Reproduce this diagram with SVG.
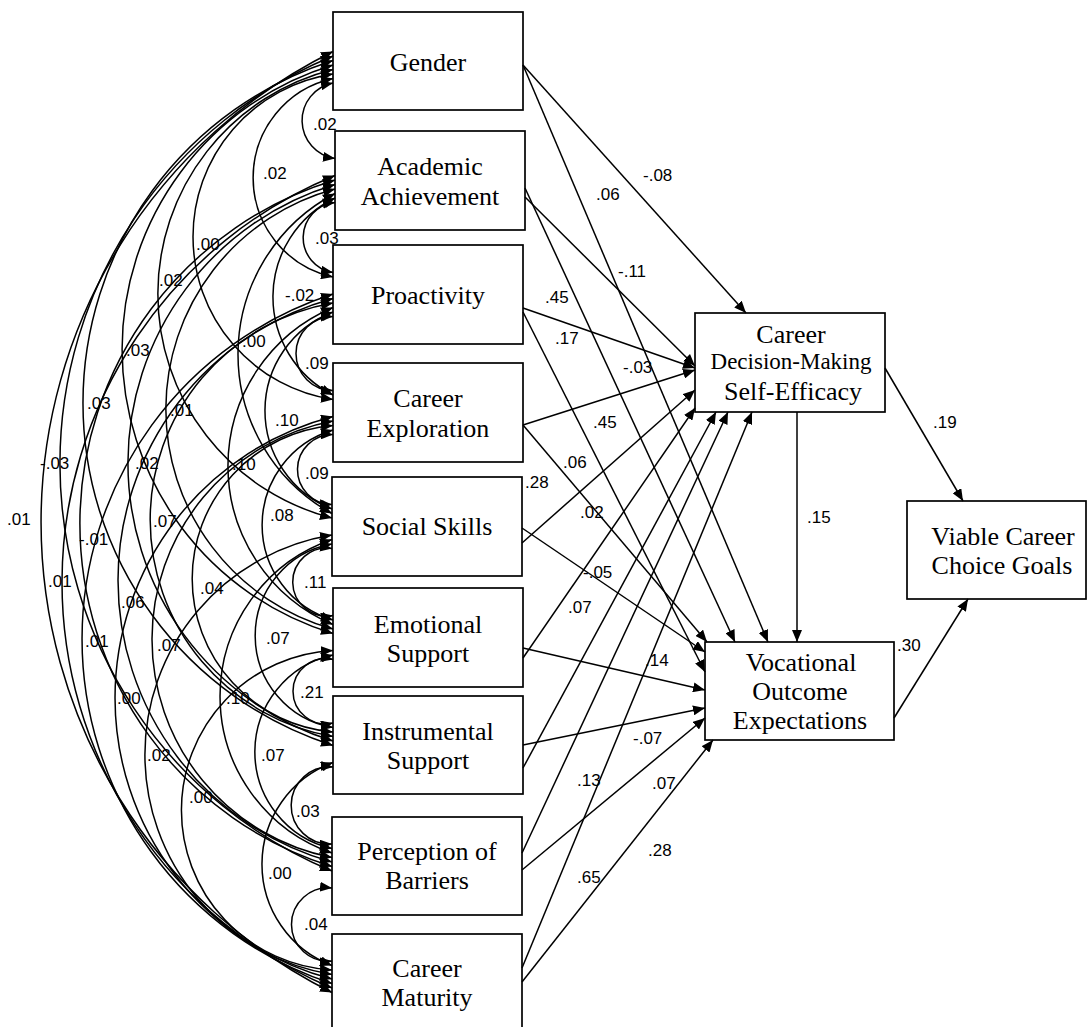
<svg xmlns="http://www.w3.org/2000/svg" width="1087" height="1027" viewBox="0 0 1087 1027">
<style>
.box{fill:#fff;stroke:#000;stroke-width:1.7}
.t{font-family:"Liberation Serif","Times New Roman",serif;font-size:26px;text-anchor:middle;fill:#000}
.ts{font-size:23px}
.lbl{font-family:"Liberation Sans",Arial,sans-serif;font-size:17px;fill:#000}
.c{fill:none;stroke:#000;stroke-width:1.5;marker-end:url(#ah)}
.cv{fill:none;stroke:#000;stroke-width:1.5;marker-start:url(#ah);marker-end:url(#ah)}
</style>
<defs>
<marker id="ah" viewBox="0 0 12 10" refX="12" refY="5" markerWidth="12" markerHeight="10" markerUnits="userSpaceOnUse" orient="auto-start-reverse">
<path d="M0,0 L12,5 L0,10 z" fill="#000"/>
</marker>
</defs>
<rect width="1087" height="1027" fill="#fff"/>

<g id="nodes">
<g id="gender"><rect class="box" x="333" y="12" width="190" height="98"/><text class="t" x="428" y="71">Gender</text></g>
<g id="academic"><rect class="box" x="335" y="131" width="190" height="99"/><text class="t" x="430" y="175">Academic</text><text class="t" x="430" y="205">Achievement</text></g>
<g id="proactivity"><rect class="box" x="333" y="245" width="190" height="99"/><text class="t" x="428" y="304">Proactivity</text></g>
<g id="exploration"><rect class="box" x="333" y="363" width="190" height="99"/><text class="t" x="428" y="407">Career</text><text class="t" x="428" y="437">Exploration</text></g>
<g id="social"><rect class="box" x="332" y="477" width="190" height="99"/><text class="t" x="427" y="535">Social Skills</text></g>
<g id="emotional"><rect class="box" x="333" y="588" width="190" height="99"/><text class="t" x="428" y="633">Emotional</text><text class="t" x="428" y="662">Support</text></g>
<g id="instrumental"><rect class="box" x="333" y="696" width="190" height="98"/><text class="t" x="428" y="740">Instrumental</text><text class="t" x="428" y="769">Support</text></g>
<g id="barriers"><rect class="box" x="332" y="817" width="190" height="98"/><text class="t" x="427" y="860">Perception of</text><text class="t" x="427" y="889">Barriers</text></g>
<g id="maturity"><rect class="box" x="332" y="934" width="190" height="100"/><text class="t" x="427" y="977">Career</text><text class="t" x="427" y="1006">Maturity</text></g>
<g id="cdmse"><rect class="box" x="695" y="313" width="190" height="99"/><text class="t" x="791" y="343">Career</text><text class="t ts" x="791" y="369">Decision-Making</text><text class="t" x="793" y="400">Self-Efficacy</text></g>
<g id="voe"><rect class="box" x="705" y="642" width="189" height="98"/><text class="t" x="801" y="671">Vocational</text><text class="t" x="800" y="700">Outcome</text><text class="t" x="800" y="729">Expectations</text></g>
<g id="viable"><rect class="box" x="907" y="501" width="179" height="98"/><text class="t" x="1003" y="545">Viable Career</text><text class="t" x="1002" y="574">Choice Goals</text></g>
</g>

<g id="connectors">
<!-- covariances -->
<path class="cv" d="M333 83 A38.3 38.3 0 0 0 335 158.5"/>
<path class="cv" d="M335 202.5 A35.3 35.3 0 0 0 333 272.5"/>
<path class="cv" d="M333 316.5 A37 37 0 1 0 333 390.5"/>
<path class="cv" d="M333 434.5 A35 35 0 1 0 332 504.5"/>
<path class="cv" d="M332 548.5 A34 34 0 1 0 333 615.5"/>
<path class="cv" d="M333 659.5 A32.6 32.6 0 1 0 333 723"/>
<path class="cv" d="M333 767 A38.6 38.6 0 1 0 332 844"/>
<path class="cv" d="M332 888 A36.7 36.7 0 1 0 332 961"/>
<path class="cv" d="M333 78.5 A101.6 101.6 0 0 0 333 277"/>
<path class="cv" d="M335 198 A110 110 0 0 0 333 395"/>
<path class="cv" d="M333 312 A105.6 105.6 0 0 0 332 509"/>
<path class="cv" d="M333 430 A99.1 99.1 0 0 0 333 620"/>
<path class="cv" d="M332 544 A93.1 93.1 0 0 0 333 727.5"/>
<path class="cv" d="M333 655 A99.1 99.1 0 0 0 332 848.5"/>
<path class="cv" d="M333 762.5 A108.3 108.3 0 0 0 332 965.5"/>
<path class="cv" d="M333 74 A164.6 164.6 0 0 0 333 399.5"/>
<path class="cv" d="M335 193.5 A181.8 181.8 0 0 0 332 513.5"/>
<path class="cv" d="M333 307.5 A172.1 172.1 0 0 0 333 624.5"/>
<path class="cv" d="M333 425.5 A153.8 153.8 0 0 0 333 732"/>
<path class="cv" d="M332 539.5 A165.7 165.7 0 0 0 332 853"/>
<path class="cv" d="M333 650.5 A160 160 0 0 0 332 970"/>
<path class="cv" d="M333 69.5 A231.3 231.3 0 0 0 332 518"/>
<path class="cv" d="M335 189 A228 228 0 0 0 333 629"/>
<path class="cv" d="M333 303 A219.9 219.9 0 0 0 333 736.5"/>
<path class="cv" d="M333 421 A222.2 222.2 0 0 0 332 857.5"/>
<path class="cv" d="M332 535 A222.6 222.6 0 0 0 332 974.5"/>
<path class="cv" d="M333 65 A297 297 0 0 0 333 633.5"/>
<path class="cv" d="M335 184.5 A290.9 290.9 0 0 0 333 741"/>
<path class="cv" d="M333 298.5 A292.3 292.3 0 0 0 332 862"/>
<path class="cv" d="M333 416.5 A290.6 290.6 0 0 0 332 979"/>
<path class="cv" d="M333 60.5 A359.6 359.6 0 0 0 333 745.5"/>
<path class="cv" d="M335 180 A359.1 359.1 0 0 0 332 866.5"/>
<path class="cv" d="M333 294 A362.5 362.5 0 0 0 332 983.5"/>
<path class="cv" d="M333 56 A440.9 440.9 0 0 0 332 871"/>
<path class="cv" d="M335 175.5 A439.7 439.7 0 0 0 332 988"/>
<path class="cv" d="M333 51.5 A525.5 525.5 0 0 0 332 992.5"/>
<!-- regression paths -->
<path class="c" d="M523 65 L746 313"/>
<path class="c" d="M523 65 L768 642"/>
<path class="c" d="M525 197 L695 366"/>
<path class="c" d="M525 188 L735 642"/>
<path class="c" d="M523 308 L695 368"/>
<path class="c" d="M523 312 L705 672"/>
<path class="c" d="M523 425 L695 370"/>
<path class="c" d="M523 425 L707 642"/>
<path class="c" d="M522 543 L695 390"/>
<path class="c" d="M522 528 L705 652"/>
<path class="c" d="M523 658 L695 408"/>
<path class="c" d="M523 648 L705 690"/>
<path class="c" d="M523 768 L716 412"/>
<path class="c" d="M523 745 L705 708"/>
<path class="c" d="M522 853 L728 412"/>
<path class="c" d="M522 870 L705 718"/>
<path class="c" d="M522 968 L752 412"/>
<path class="c" d="M522 982 L713 740"/>
<path class="c" d="M797 412 L797 642"/>
<path class="c" d="M885 368 L963 501"/>
<path class="c" d="M894 718 L968 599"/>
</g>

<g id="labels" class="lbl">
<text x="313" y="130">.02</text>
<text x="315" y="244">.03</text>
<text x="305" y="369">.09</text>
<text x="305" y="479">.09</text>
<text x="304" y="588">.11</text>
<text x="300" y="698">.21</text>
<text x="296" y="817">.03</text>
<text x="304" y="930">.04</text>
<text x="263" y="179">.02</text>
<text x="285" y="301">-.02</text>
<text x="275" y="426">.10</text>
<text x="270" y="521">.08</text>
<text x="266" y="644">.07</text>
<text x="261" y="761">.07</text>
<text x="268" y="879">.00</text>
<text x="196" y="250">.00</text>
<text x="242" y="347">.00</text>
<text x="232" y="470">.10</text>
<text x="200" y="594">.04</text>
<text x="226" y="704">.10</text>
<text x="189" y="803">.00</text>
<text x="159" y="286">.02</text>
<text x="170" y="416">.01</text>
<text x="153" y="527">.07</text>
<text x="157" y="651">.07</text>
<text x="147" y="761">.02</text>
<text x="126" y="356">.03</text>
<text x="135" y="469">.02</text>
<text x="121" y="608">.06</text>
<text x="117" y="704">.00</text>
<text x="87" y="409">.03</text>
<text x="79" y="545">-.01</text>
<text x="85" y="647">.01</text>
<text x="40" y="469">-.03</text>
<text x="48" y="587">.01</text>
<text x="7" y="525">.01</text>
<text x="643" y="181">-.08</text>
<text x="596" y="200">.06</text>
<text x="618" y="277">-.11</text>
<text x="545" y="303">.45</text>
<text x="555" y="344">.17</text>
<text x="623" y="373">-.03</text>
<text x="593" y="428">.45</text>
<text x="563" y="468">.06</text>
<text x="525" y="488">.28</text>
<text x="580" y="518">.02</text>
<text x="583" y="578">-.05</text>
<text x="568" y="613">.07</text>
<text x="645" y="666">.14</text>
<text x="633" y="744">-.07</text>
<text x="577" y="786">.13</text>
<text x="652" y="789">.07</text>
<text x="577" y="883">.65</text>
<text x="648" y="856">.28</text>
<text x="933" y="428">.19</text>
<text x="807" y="523">.15</text>
<text x="897" y="651">.30</text>
</g>
</svg>
